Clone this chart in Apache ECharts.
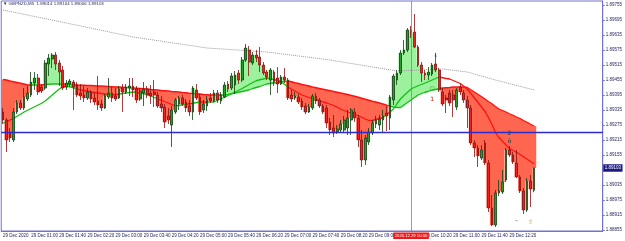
<!DOCTYPE html>
<html>
<head>
<meta charset="utf-8">
<title>GBPNZD,M5</title>
<script src="https://cdn.jsdelivr.net/npm/echarts@6.0.0/dist/echarts.min.js"></script>
<style>
html, body { margin: 0; padding: 0; background: #fff; }
#chart { width: 625px; height: 241px; }
</style>
</head>
<body>
<div id="chart"></div>
<script>
// GBPNZD M5, 29 Dec 2020, one bar every 5 minutes from 00:20
var openP = [
  1.89327,1.89295,1.89243,1.89215,1.89327,1.89363,1.89343,1.89379,1.89395,1.89443,
  1.89463,1.89427,1.89423,1.89519,1.89539,1.89555,1.89523,1.89495,1.89427,1.89439,
  1.89447,1.89435,1.89403,1.89395,1.89383,1.89407,1.89383,1.89371,1.89359,1.89343,
  1.89387,1.89403,1.89391,1.89383,1.89423,1.89407,1.89423,1.89431,1.89419,1.89379,
  1.89403,1.89419,1.89403,1.89407,1.89395,1.89359,1.89347,1.89311,1.89275,1.89327,
  1.89359,1.89383,1.89367,1.89351,1.89327,1.89415,1.89387,1.89335,1.89351,1.89383,
  1.89371,1.89403,1.89371,1.89387,1.89439,1.89423,1.89435,1.89483,1.89455,1.89535,
  1.89575,1.89523,1.89555,1.89547,1.89515,1.89487,1.89455,1.89487,1.89463,1.89439,
  1.89467,1.89455,1.89395,1.89383,1.89387,1.89371,1.89351,1.89327,1.89343,1.89391,
  1.89375,1.89351,1.89343,1.89287,1.89263,1.89247,1.89255,1.89255,1.89263,1.89295,
  1.89327,1.89303,1.89215,1.89135,1.89207,1.89243,1.89279,1.89275,1.89295,1.89323,
  1.89303,1.89375,1.89455,1.89483,1.89563,1.89575,1.89655,1.89647,1.89587,1.89515,
  1.89483,1.89475,1.89479,1.89519,1.89495,1.89407,1.89383,1.89403,1.89395,1.89347,
  1.89427,1.89403,1.89375,1.89343,1.89203,1.89183,1.89143,1.89203,1.89123,1.88943,
  1.88875,1.89003,1.89007,1.89055,1.89175,1.89155,1.89123,1.89067,1.89011,1.88935,
  1.89051,1.89014
];
var closeP = [
  1.89295,1.89215,1.89223,1.89327,1.89363,1.89343,1.89387,1.89403,1.89447,1.89463,
  1.89407,1.89411,1.89523,1.89543,1.89555,1.89519,1.89487,1.89423,1.89443,1.89451,
  1.89427,1.89395,1.89391,1.89383,1.89407,1.89379,1.89367,1.89355,1.89343,1.89391,
  1.89403,1.89383,1.89379,1.89419,1.89407,1.89427,1.89431,1.89415,1.89375,1.89411,
  1.89419,1.89395,1.89391,1.89395,1.89351,1.89343,1.89287,1.89295,1.89335,1.89375,
  1.89383,1.89359,1.89343,1.89327,1.89423,1.89383,1.89327,1.89359,1.89375,1.89371,
  1.89403,1.89375,1.89395,1.89435,1.89419,1.89471,1.89475,1.89455,1.89535,1.89583,
  1.89527,1.89555,1.89543,1.89515,1.89483,1.89467,1.89495,1.89447,1.89439,1.89467,
  1.89455,1.89383,1.89379,1.89391,1.89367,1.89347,1.89327,1.89347,1.89391,1.89371,
  1.89351,1.89327,1.89283,1.89255,1.89243,1.89259,1.89279,1.89295,1.89303,1.89335,
  1.89303,1.89215,1.89135,1.89223,1.89247,1.89283,1.89295,1.89299,1.89311,1.89311,
  1.89387,1.89471,1.89483,1.89563,1.89575,1.89655,1.89643,1.89587,1.89515,1.89483,
  1.89475,1.89487,1.89515,1.89495,1.89415,1.89359,1.89375,1.89363,1.89375,1.89415,
  1.89407,1.89375,1.89343,1.89203,1.89183,1.89151,1.89175,1.89123,1.88943,1.88875,
  1.89003,1.89011,1.89047,1.89175,1.89155,1.89127,1.89067,1.89011,1.88935,1.89051,
  1.89019,1.89103
];
var lowP = [
  1.89279,1.89167,1.89207,1.89207,1.89319,1.89335,1.89335,1.89371,1.89387,1.89415,
  1.89395,1.89403,1.89415,1.89471,1.89503,1.89495,1.89431,1.89415,1.89415,1.89427,
  1.89335,1.89387,1.89375,1.89367,1.89375,1.89363,1.89355,1.89335,1.89331,1.89339,
  1.89379,1.89367,1.89371,1.89379,1.89327,1.89399,1.89391,1.89387,1.89363,1.89371,
  1.89351,1.89383,1.89359,1.89347,1.89343,1.89327,1.89263,1.89279,1.89187,1.89319,
  1.89335,1.89351,1.89327,1.89311,1.89295,1.89375,1.89315,1.89323,1.89331,1.89363,
  1.89367,1.89363,1.89359,1.89383,1.89407,1.89415,1.89399,1.89439,1.89447,1.89527,
  1.89471,1.89515,1.89527,1.89487,1.89475,1.89455,1.89395,1.89431,1.89403,1.89435,
  1.89443,1.89375,1.89367,1.89375,1.89359,1.89335,1.89319,1.89323,1.89335,1.89359,
  1.89343,1.89319,1.89263,1.89235,1.89227,1.89239,1.89247,1.89247,1.89235,1.89235,
  1.89287,1.89187,1.89107,1.89115,1.89195,1.89235,1.89263,1.89255,1.89247,1.89251,
  1.89255,1.89355,1.89435,1.89475,1.89555,1.89567,1.89623,1.89583,1.89507,1.89447,
  1.89455,1.89455,1.89471,1.89487,1.89407,1.89351,1.89323,1.89351,1.89307,1.89335,
  1.89395,1.89363,1.89263,1.89195,1.89147,1.89107,1.89135,1.89115,1.88927,1.88871,
  1.88867,1.88991,1.88999,1.89047,1.89147,1.89119,1.89063,1.89003,1.88919,1.88927,
  1.88947,1.89006
];
var highP = [
  1.89343,1.89303,1.89263,1.89343,1.89375,1.89375,1.89423,1.89431,1.89487,1.89487,
  1.89479,1.89439,1.89535,1.89559,1.89563,1.89567,1.89535,1.89511,1.89455,1.89459,
  1.89455,1.89447,1.89439,1.89431,1.89423,1.89415,1.89407,1.89471,1.89375,1.89399,
  1.89463,1.89427,1.89423,1.89431,1.89439,1.89439,1.89463,1.89463,1.89431,1.89423,
  1.89447,1.89431,1.89435,1.89455,1.89407,1.89391,1.89359,1.89343,1.89351,1.89383,
  1.89391,1.89395,1.89379,1.89375,1.89431,1.89439,1.89399,1.89375,1.89391,1.89403,
  1.89415,1.89415,1.89407,1.89447,1.89451,1.89483,1.89491,1.89495,1.89547,1.89599,
  1.89591,1.89567,1.89575,1.89587,1.89527,1.89495,1.89503,1.89495,1.89507,1.89475,
  1.89503,1.89463,1.89415,1.89407,1.89399,1.89383,1.89363,1.89359,1.89399,1.89403,
  1.89383,1.89359,1.89355,1.89303,1.89315,1.89275,1.89295,1.89311,1.89335,1.89343,
  1.89343,1.89315,1.89255,1.89235,1.89263,1.89295,1.89311,1.89315,1.89335,1.89351,
  1.89395,1.89479,1.89495,1.89575,1.89615,1.89663,1.89671,1.89719,1.89595,1.89527,
  1.89495,1.89507,1.89523,1.89563,1.89503,1.89423,1.89395,1.89415,1.89415,1.89423,
  1.89439,1.89415,1.89391,1.89355,1.89215,1.89195,1.89195,1.89215,1.89135,1.88995,
  1.89015,1.89055,1.89095,1.89183,1.89191,1.89167,1.89175,1.89075,1.89023,1.89063,
  1.89075,1.89104
];
// slow average (cloud edge) and fast average
var slowMa = [
  1.89457,1.89455,1.89451,1.89448,1.89445,1.89442,1.89439,1.89435,1.89435,1.89435,
  1.89435,1.89435,1.89437,1.89438,1.89439,1.89439,1.89439,1.89439,1.89438,1.89437,
  1.89436,1.89435,1.89434,1.89434,1.89433,1.89433,1.89432,1.89431,1.89431,1.89430,
  1.89429,1.89428,1.89427,1.89427,1.89426,1.89425,1.89424,1.89423,1.89422,1.89421,
  1.89420,1.89419,1.89417,1.89416,1.89415,1.89413,1.89412,1.89411,1.89409,1.89408,
  1.89407,1.89405,1.89404,1.89402,1.89401,1.89400,1.89399,1.89397,1.89396,1.89395,
  1.89395,1.89395,1.89395,1.89395,1.89397,1.89400,1.89403,1.89406,1.89409,1.89412,
  1.89416,1.89421,1.89425,1.89429,1.89434,1.89439,1.89441,1.89443,1.89445,1.89447,
  1.89449,1.89451,1.89448,1.89444,1.89441,1.89437,1.89434,1.89431,1.89427,1.89424,
  1.89421,1.89418,1.89415,1.89412,1.89409,1.89406,1.89403,1.89400,1.89397,1.89393,
  1.89390,1.89386,1.89382,1.89378,1.89374,1.89370,1.89367,1.89363,1.89359,1.89355,
  1.89350,1.89347,1.89345,1.89345,1.89355,1.89365,1.89375,1.89385,1.89395,1.89401,
  1.89406,1.89410,1.89415,1.89417,1.89421,1.89423,1.89424,1.89425,1.89427,1.89427,
  1.89427,1.89427,1.89425,1.89416,1.89407,1.89398,1.89389,1.89379,1.89369,1.89360,
  1.89349,1.89339,1.89333,1.89327,1.89320,1.89314,1.89307,1.89301,1.89293,1.89286,
  1.89278,1.89271
];
var fastMa = [
  1.89282,1.89289,1.89295,1.89301,1.89310,1.89318,1.89327,1.89334,1.89341,1.89348,
  1.89355,1.89362,1.89371,1.89383,1.89395,1.89407,1.89419,1.89428,1.89430,1.89428,
  1.89424,1.89420,1.89415,1.89413,1.89410,1.89407,1.89405,1.89403,1.89401,1.89399,
  1.89398,1.89396,1.89396,1.89399,1.89401,1.89403,1.89405,1.89407,1.89405,1.89403,
  1.89400,1.89397,1.89391,1.89385,1.89379,1.89374,1.89368,1.89363,1.89357,1.89351,
  1.89353,1.89356,1.89358,1.89360,1.89362,1.89365,1.89367,1.89367,1.89367,1.89367,
  1.89367,1.89374,1.89380,1.89386,1.89393,1.89400,1.89407,1.89414,1.89421,1.89429,
  1.89437,1.89445,1.89452,1.89456,1.89459,1.89463,1.89460,1.89457,1.89453,1.89449,
  1.89438,1.89427,1.89419,1.89411,1.89403,1.89395,1.89390,1.89385,1.89380,1.89376,
  1.89372,1.89367,1.89363,1.89358,1.89353,1.89346,1.89339,1.89333,1.89328,1.89323,
  1.89318,1.89312,1.89306,1.89299,1.89293,1.89293,1.89297,1.89301,1.89305,1.89316,
  1.89327,1.89339,1.89360,1.89379,1.89393,1.89406,1.89419,1.89426,1.89432,1.89437,
  1.89443,1.89449,1.89455,1.89461,1.89467,1.89464,1.89461,1.89459,1.89453,1.89447,
  1.89441,1.89430,1.89418,1.89401,1.89384,1.89366,1.89348,1.89330,1.89305,1.89277,
  1.89245,1.89224,1.89210,1.89195,1.89181,1.89173,1.89166,1.89157,1.89148,1.89138,
  1.89129,1.89119
];
// long dotted average, sampled where it is visible
var dotIdx = [0, 18, 37, 58, 75, 93, 112, 125, 132, 140, 151];
var dotVal = [1.89735, 1.89683, 1.89627, 1.89583, 1.89567, 1.89535, 1.89491, 1.89499, 1.89487, 1.89455, 1.89415];

var yTicks = [1.88855, 1.88915, 1.88975, 1.89035, 1.89095, 1.89155, 1.89215, 1.89275,
  1.89335, 1.89395, 1.89455, 1.89515, 1.89575, 1.89635, 1.89695, 1.89755];
var xTickLabels = ['29 Dec 2020', '29 Dec 01:00', '29 Dec 01:40', '29 Dec 02:20', '29 Dec 03:00',
  '29 Dec 03:40', '29 Dec 04:20', '29 Dec 05:00', '29 Dec 05:40', '29 Dec 06:20', '29 Dec 07:00',
  '29 Dec 07:40', '29 Dec 08:20', '29 Dec 09:00', '29 Dec 09:40', '29 Dec 10:20', '29 Dec 11:00',
  '29 Dec 11:40', '29 Dec 12:20'];

// arrow / number objects on the chart
var markIdx = [123, 122, 122, 144, 144, 146, 150, 152];
var markPrice = [1.89555, 1.89423, 1.89379, 1.89243, 1.89211, 1.88895, 1.88887, 1.89127];
var markText = ['↓', '○', '1', '2', 'ö', '–', '⇧', '◦'];
var markColor = ['#2233ee', '#14a014', '#a02a10', '#333333', '#333333', '#2233ee', '#e08a00', '#e08a00'];

var hLinePrice = 1.89245;
var crossIdx = 116;
var totalBars = 171; // chart shift leaves empty bars on the right

var AXIS = '#7272cc';
var TXT = '#262660';
var RED_FILL = '#ff6650';
var GREEN_FILL = '#9cf29c';
var RED_LINE = '#ff1010';
var GREEN_LINE = '#12c012';

var categories = [];
for (var i = 0; i < totalBars; i++) {
  var m = 20 + i * 5;
  var hh = Math.floor(m / 60), mm = m % 60;
  categories.push('2020.12.29 ' + (hh < 10 ? '0' : '') + hh + ':' + (mm < 10 ? '0' : '') + mm);
}

var candles = openP.map(function (o, k) {
  return [o, closeP[k], lowP[k], highP[k]];
});

// colour runs of a line: red while price is under it, green while above
function sidePieces(ma) {
  var out = [], start = 0;
  for (var k = 1; k <= ma.length; k++) {
    var down = closeP[start] < ma[start];
    if (k === ma.length || (closeP[k] < ma[k]) !== down) {
      out.push({ gte: start - 0.5, lt: k - 0.5, color: down ? RED_LINE : GREEN_LINE });
      start = k;
    }
  }
  return out;
}

function fillItem(params, api) {
  var k = api.value(0);
  var c = closeP[k], s = slowMa[k];
  if (c === s) return;
  var sL = k > 0 ? (slowMa[k - 1] + s) / 2 : s;
  var sR = k < slowMa.length - 1 ? (slowMa[k + 1] + s) / 2 : s;
  var w = api.size([1, 0])[0] / 2 + 0.3;
  var pc = api.coord([k, s]);
  var pl = api.coord([k, sL]);
  var pr = api.coord([k, sR]);
  var py = api.coord([k, c])[1];
  return {
    type: 'polygon',
    shape: { points: [[pc[0] - w, pl[1]], [pc[0], pc[1]], [pc[0] + w, pr[1]], [pc[0] + w, py], [pc[0] - w, py]] },
    style: { fill: c < s ? RED_FILL : GREEN_FILL }
  };
}

function markItem(params, api) {
  var k = api.value(2);
  var p = api.coord([api.value(0), api.value(1)]);
  return {
    type: 'text',
    x: p[0],
    y: p[1],
    style: {
      text: markText[k],
      fill: markColor[k],
      font: '6px "DejaVu Sans"',
      align: 'center',
      verticalAlign: 'middle'
    }
  };
}

var last = candles.length - 1;
var header = '▼ GBPNZD,M5  ' + [openP[last], highP[last], lowP[last], closeP[last]]
  .map(function (v) { return v.toFixed(5); }).join(' ');

var chart = echarts.init(document.getElementById('chart'), null, { renderer: 'canvas' });
chart.setOption({
  animation: false,
  backgroundColor: '#ffffff',
  textStyle: { fontFamily: 'Liberation Sans' },
  grid: { left: 1, right: 21, top: 1, bottom: 10, show: true, borderColor: AXIS, borderWidth: 1 },
  graphic: [{
    type: 'text', left: 3, top: 2,
    style: { text: header, fill: TXT, font: '4.4px "Liberation Sans"' }
  }],
  xAxis: {
    type: 'category',
    data: categories,
    boundaryGap: true,
    axisLine: { lineStyle: { color: AXIS, width: 1 } },
    axisTick: {
      length: 2,
      alignWithLabel: true,
      interval: function (idx) { return idx % 8 === 0 && idx <= 144; },
      lineStyle: { color: AXIS }
    },
    axisLabel: {
      interval: function (idx) { return idx % 8 === 0 && idx <= 144; },
      formatter: function (v, idx) { return xTickLabels[idx / 8] || ''; },
      align: 'left',
      fontSize: 4.5,
      margin: 2.5,
      color: TXT
    },
    splitLine: { show: false }
  },
  yAxis: {
    type: 'value',
    position: 'right',
    min: 1.88851,
    max: 1.89771,
    axisLine: { show: true, lineStyle: { color: AXIS, width: 1 } },
    axisTick: { show: true, length: 2, customValues: yTicks, lineStyle: { color: AXIS } },
    axisLabel: {
      customValues: yTicks,
      formatter: function (v) { return v.toFixed(5); },
      fontSize: 4.5,
      margin: 3,
      color: TXT
    },
    splitLine: { show: false }
  },
  visualMap: [
    { type: 'piecewise', show: false, dimension: 0, seriesIndex: 2, pieces: sidePieces(slowMa) },
    { type: 'piecewise', show: false, dimension: 0, seriesIndex: 3, pieces: sidePieces(fastMa) }
  ],
  series: [
    {
      type: 'custom',
      renderItem: fillItem,
      clip: true,
      encode: { x: 0, y: 1 },
      data: closeP.map(function (c, k) { return [k, c]; }),
      z: 1
    },
    {
      type: 'line',
      data: dotIdx.map(function (d, k) { return [d, dotVal[k]]; }),
      symbol: 'none',
      lineStyle: { color: '#9a9a9a', width: 1, type: 'dotted' },
      z: 2,
      markLine: {
        silent: true,
        precision: 5,
        symbol: ['none', 'none'],
        data: [
          {
            xAxis: crossIdx,
            lineStyle: { color: '#c46a5c', width: 0.8, type: 'solid' },
            label: {
              show: true, position: 'start', distance: 1.5,
              formatter: categories[crossIdx],
              backgroundColor: '#f01818', color: '#ffffff',
              fontSize: 4.2, padding: [1.5, 1.5, 1, 1.5]
            }
          },
          {
            yAxis: hLinePrice,
            lineStyle: { color: '#2b2bd0', width: 1.4, type: 'solid' },
            label: { show: false }
          },
          {
            yAxis: closeP[last],
            lineStyle: { color: 'rgba(255,255,255,0)', width: 0.1, type: 'solid' },
            label: {
              show: true, position: 'end', distance: 0.5,
              formatter: closeP[last].toFixed(5),
              backgroundColor: '#1b1b80', color: '#ffffff',
              fontSize: 4.5, padding: [1.5, 1.5, 1, 1.5]
            }
          }
        ]
      }
    },
    {
      type: 'line',
      data: slowMa,
      symbol: 'none',
      lineStyle: { width: 1.3 },
      z: 3
    },
    {
      type: 'line',
      data: fastMa,
      symbol: 'none',
      lineStyle: { width: 1.3 },
      z: 3
    },
    {
      type: 'candlestick',
      data: candles,
      barWidth: '62%',
      itemStyle: {
        color: '#2a9a2a',
        borderColor: '#123f12',
        color0: '#ee2020',
        borderColor0: '#851212',
        borderWidth: 0.8
      },
      z: 4
    },
    {
      type: 'custom',
      renderItem: markItem,
      encode: { x: 0, y: 1 },
      data: markIdx.map(function (d, k) { return [d, markPrice[k], k]; }),
      z: 5
    }
  ]
});
</script>
</body>
</html>
